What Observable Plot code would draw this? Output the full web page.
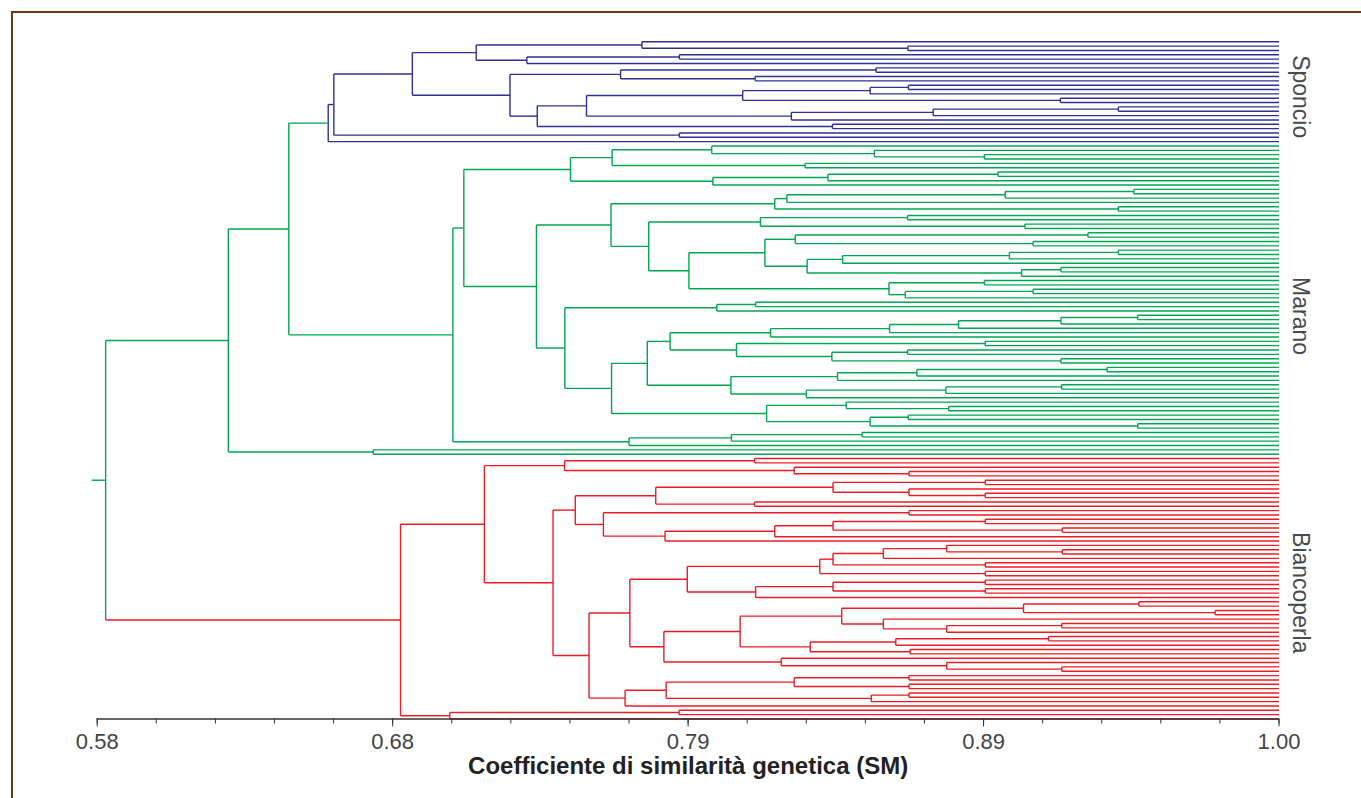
<!DOCTYPE html>
<html><head><meta charset="utf-8">
<script src="https://cdn.jsdelivr.net/npm/d3@7"></script>
<script src="https://cdn.jsdelivr.net/npm/@observablehq/plot@0.6"></script>
<style>
body{margin:0;background:#fff;}
#wrap{position:relative;width:1361px;height:798px;overflow:hidden;}
#frame{position:absolute;left:11px;top:11px;right:-6px;bottom:-6px;border-top:2px solid #6b3816;border-left:2px solid #6b3816;pointer-events:none;}
</style></head><body><div id="wrap"><div id="chart"></div><div id="frame"></div></div>
<script>
// ---- data ----
const clusterNames = ["Sponcio", "Marano", "Biancoperla"];
const clusterSizes = [24, 72, 61];
const clusterColors = ["#2e3192", "#00a651", "#ed1c24"];
const joinColors = ["#00a651", "#00a651", "#ed1c24"];
const tickValues = [0.58, 0.685, 0.79, 0.895, 1.0];
const tickLabels = ["0.58", "0.68", "0.79", "0.89", "1.00"];
const rootLead = 0.578;

// tree nodes: [similarity, upper child, lower child]; 0 = leaf
const sponcio = [0.6621,
  [0.6641,
    [0.6920,
      [0.7147,
        [0.7736, 0, [0.8681, 0, 0]],
        [0.7327, [0.7869, 0, 0], 0]],
      [0.7267,
        [0.7660, [0.8568, 0, 0], [0.8138, 0, 0]],
        [0.7364,
          [0.7539,
            [0.8094, [0.8547, [0.8683, 0, 0], 0], [0.9223, 0, 0]],
            [0.8267, [0.8771, [0.9429, 0, 0], 0], 0]],
          [0.8413, 0, 0]]]],
    [0.7869, 0, 0]],
  0];

const maranoA = [0.7482,
  [0.7630,
    [0.7984, 0, [0.8562, 0, [0.8953, 0, 0]]],
    [0.8316, 0, 0]],
  [0.7988,
    [0.8397, [0.9001, 0, 0], 0],
    0]];

const maranoB = [0.7626,
  [0.8208,
    [0.8251, [0.9027, [0.9484, 0, 0], 0], 0],
    [0.9429, 0, 0]],
  [0.7760,
    [0.8157, [0.8680, 0, 0], [0.9097, 0, 0]],
    [0.7903,
      [0.8173,
        [0.8281, [0.9321, 0, 0], [0.9126, 0, 0]],
        [0.8323,
          [0.8449, [0.9042, [0.9429, 0, 0], 0], 0],
          [0.9085, [0.9225, 0, 0], 0]]],
      [0.8614, [0.8953, 0, 0], [0.8672, [0.9126, 0, 0], 0]]]]];

const maranoC = [0.7462,
  [0.8002, [0.8140, 0, 0], 0],
  [0.7628,
    [0.7755,
      [0.7836,
        [0.8193, [0.8616, [0.8861, [0.9225, [0.9498, 0, 0], 0], 0], 0], 0],
        [0.8072, [0.8956, 0, 0], [0.8411, [0.8680, 0, 0], [0.9225, 0, 0]]]],
      [0.8052,
        [0.8431, [0.8713, [0.9389, 0, 0], 0], 0],
        [0.8320, [0.8816, [0.9227, 0, 0], 0], 0]]],
    [0.8179,
      [0.8462, 0, [0.8826, 0, 0]],
      [0.8547, [0.8682, 0, 0], [0.9498, 0, 0]]]]];

const maranoD = [0.7690, [0.8054, [0.8518, 0, 0], 0], 0];
const maranoE = [0.6781, 0, 0];

const biancoA = [0.7461, [0.8136, 0, 0], [0.8277, 0, [0.8685, 0, 0]]];
const biancoB = [0.7499,
  [0.7785,
    [0.8415, [0.8956, 0, 0], [0.8685, 0, [0.8956, 0, 0]]],
    [0.8136, 0, 0]],
  [0.7599,
    [0.8685, 0, 0],
    [0.7818,
      [0.8208, [0.8415, [0.8956, 0, 0], [0.9230, 0, 0]], 0],
      0]]];
const biancoC = [0.7693,
  [0.7897,
    [0.8368,
      [0.8415, [0.8594, [0.8819, 0, [0.9230, 0, 0]], 0], [0.8956, 0, 0]],
      [0.8956, 0, 0]],
    [0.8140, [0.8415, [0.8956, 0, 0], [0.8956, 0, 0]], 0]],
  [0.7814,
    [0.8085,
      [0.8446,
        [0.9092, [0.9502, 0, 0], [0.9773, 0, 0]],
        [0.8594, 0, [0.8819, [0.9228, 0, 0], 0]]],
      [0.8334, [0.8638, [0.9181, 0, 0], 0], [0.8689, 0, 0]]],
    [0.8231, 0, [0.8819, 0, [0.9228, 0, 0]]]]];
const biancoD = [0.7676,
  [0.7822,
    [0.8277, [0.8685, 0, 0], [0.8685, 0, 0]],
    [0.8551, [0.8685, 0, 0], 0]],
  0];
const biancoE = [0.7053, [0.7868, 0, 0], 0];

const maranoMain = [0.7064, [0.7103, maranoA, [0.7361, maranoB, maranoC]], maranoD];
const biancoperla = [0.6878, [0.7176, biancoA, [0.7420, biancoB, [0.7548, biancoC, biancoD]]], biancoE];
const tree = [0.5830, [0.6266, [0.6481, sponcio, maranoMain], maranoE], biancoperla];

// ---- layout ----
const bounds = d3.cumsum(clusterSizes);
const clusterOf = i => bounds.findIndex(b => i < b);
let leafCount = 0;
const nodes = [];
function layout(t) {
  if (t === 0) { const i = leafCount++; return {h: 1.0, y: i, cluster: clusterOf(i)}; }
  const [h, a, b] = t;
  const A = layout(a), B = layout(b);
  const n = {h, y: (A.y + B.y) / 2, cluster: A.cluster === B.cluster ? A.cluster : -1, kids: [A, B]};
  nodes.push(n);
  return n;
}
const root = layout(tree);
const mixed = clusterColors[1];
const colorOf = n => n.cluster >= 0 ? clusterColors[n.cluster] : mixed;
const segs = [];
for (const n of nodes) {
  segs.push({x1: n.h, x2: n.h, y1: n.kids[0].y, y2: n.kids[1].y, stroke: colorOf(n)});
  for (const c of n.kids) {
    const col = c.cluster >= 0 ? (n.cluster < 0 ? joinColors[c.cluster] : clusterColors[c.cluster]) : mixed;
    segs.push({x1: n.h, x2: c.h, y1: c.y, y2: c.y, stroke: col});
  }
}
segs.push({x1: rootLead, x2: root.h, y1: root.y, y2: root.y, stroke: colorOf(root)});

const N = leafCount;
const minorTicks = d3.range(21).map(i => 0.58 + i * 0.021);
let start = 0;
const labelMarks = clusterNames.map((name, i) => {
  const center = start + (clusterSizes[i] - 1) / 2;
  start += clusterSizes[i];
  const dys = [5, 16, 4];
  return Plot.text([name], {x: () => 1.0, y: () => center, dx: 21, dy: dys[i], rotate: 90,
    fontSize: 23, fill: "#4a4a4a", textAnchor: "middle"});
});

const chart = Plot.plot({
  width: 1361, height: 798,
  marginLeft: 96.7, marginRight: 82.5, marginTop: 41.3, marginBottom: 79.5,
  x: {domain: [0.58, 1.0], axis: null},
  y: {domain: [0, N - 1], reverse: true, axis: null},
  color: {type: "identity"},
  style: {fontFamily: "'Liberation Sans', Arial, sans-serif", background: "transparent", overflow: "visible", color: "#333"},
  marks: [
    Plot.link(segs, {x1: "x1", y1: "y1", x2: "x2", y2: "y2", stroke: "stroke", strokeWidth: 1.4}),
    Plot.ruleY([N - 1], {x1: () => 0.58, x2: () => 1.0, stroke: "#333", strokeWidth: 1.4}),
    Plot.axisX(minorTicks, {tickSize: 5, tickFormat: () => "", stroke: "#333"}),
    Plot.axisX(tickValues, {tickSize: 8, tickPadding: 6, tickFormat: d => tickLabels[tickValues.indexOf(d)],
      fontSize: 22, fill: "#444", stroke: "#333"}),
    Plot.text(["Coefficiente di similarità genetica (SM)"], {frameAnchor: "bottom", dy: 55,
      fontSize: 24, fontWeight: "bold", fill: "#222"}),
    ...labelMarks
  ]
});
document.getElementById("chart").appendChild(chart);
</script>
</body></html>
